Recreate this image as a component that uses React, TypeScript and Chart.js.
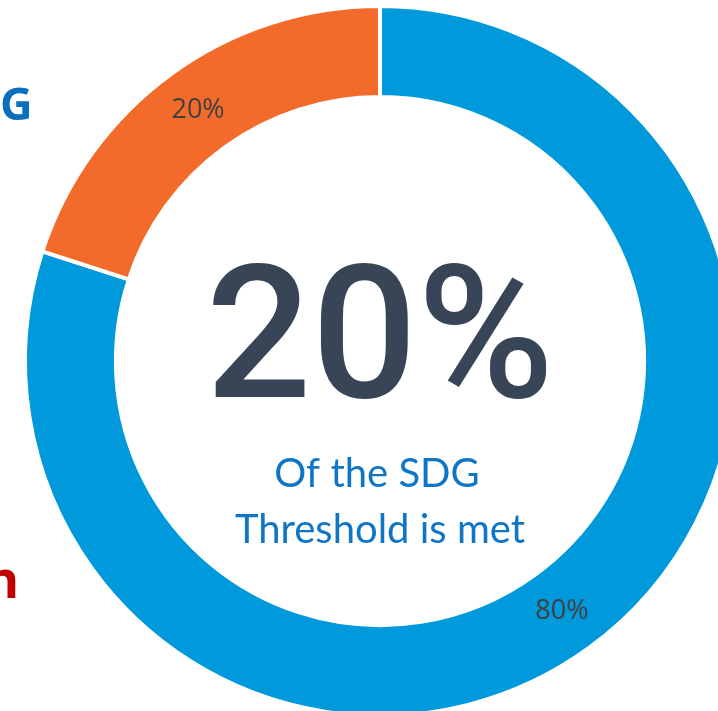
import React, { useEffect, useRef } from "react";
import { Chart, registerables } from "chart.js";

Chart.register(...registerables);

const categories = ["Not met", "Met"];
const values = [80, 20];
const colors = ["#0099DB", "#F26B2A"];
const centerValue = "20%";
const centerLines = ["Of the SDG", "Threshold is met"];

const sliceLabels = {
  id: "sliceLabels",
  afterDatasetsDraw(chart: any) {
    const ctx = chart.ctx;
    const meta = chart.getDatasetMeta(0);
    ctx.save();
    ctx.font = "27px 'Open Sans'";
    ctx.fillStyle = "#404040";
    ctx.textAlign = "center";
    ctx.textBaseline = "middle";
    meta.data.forEach((arc: any, i: number) => {
      const p = arc.tooltipPosition();
      ctx.fillText(values[i] + "%", p.x, p.y);
    });
    ctx.restore();
  },
};

const centerText = {
  id: "centerText",
  afterDraw(chart: any) {
    const ctx = chart.ctx;
    const arc = chart.getDatasetMeta(0).data[0];
    const cx = arc.x;
    const cy = arc.y;
    ctx.save();
    ctx.textAlign = "center";
    ctx.textBaseline = "alphabetic";
    ctx.fillStyle = "#384557";
    ctx.font = "500 186px Roboto";
    ctx.fillText(centerValue, cx, cy + 36);
    ctx.fillStyle = "#0F75C6";
    ctx.font = "40px Lato";
    ctx.fillText(centerLines[0], cx - 3, cy + 126);
    ctx.fillText(centerLines[1], cx, cy + 182);
    ctx.restore();
  },
};

export default function App() {
  const ref = useRef<HTMLCanvasElement>(null);
  useEffect(() => {
    if (!ref.current) return;
    const chart = new Chart(ref.current, {
      type: "doughnut",
      data: {
        labels: categories,
        datasets: [
          {
            data: values,
            backgroundColor: colors,
            borderColor: "#ffffff",
            borderWidth: 4,
          },
        ],
      },
      options: {
        animation: false,
        responsive: false,
        cutout: "74.4%",
        layout: { padding: { left: 23, top: 4, right: 23, bottom: 42 } },
        plugins: {
          legend: { display: false },
          tooltip: { enabled: false },
        },
      },
      plugins: [sliceLabels, centerText],
    });
    return () => chart.destroy();
  }, []);

  return (
    <div
      style={{
        position: "fixed",
        left: 0,
        top: 0,
        width: 718,
        height: 711,
        overflow: "hidden",
        background: "#ffffff",
      }}
    >
      <canvas
        ref={ref}
        width={760}
        height={760}
        style={{ position: "absolute", left: 0, top: 0, width: 760, height: 760 }}
      />
      <span
        style={{
          position: "absolute",
          left: 0,
          top: 73,
          fontFamily: "'Open Sans'",
          fontWeight: 700,
          fontSize: 45,
          lineHeight: "60px",
          color: "#0B6FC0",
        }}
      >
        G
      </span>
      <span
        style={{
          position: "absolute",
          left: -15,
          top: 543,
          fontFamily: "'Open Sans'",
          fontWeight: 700,
          fontSize: 52,
          lineHeight: "70px",
          color: "#C00000",
        }}
      >
        n
      </span>
    </div>
  );
}
